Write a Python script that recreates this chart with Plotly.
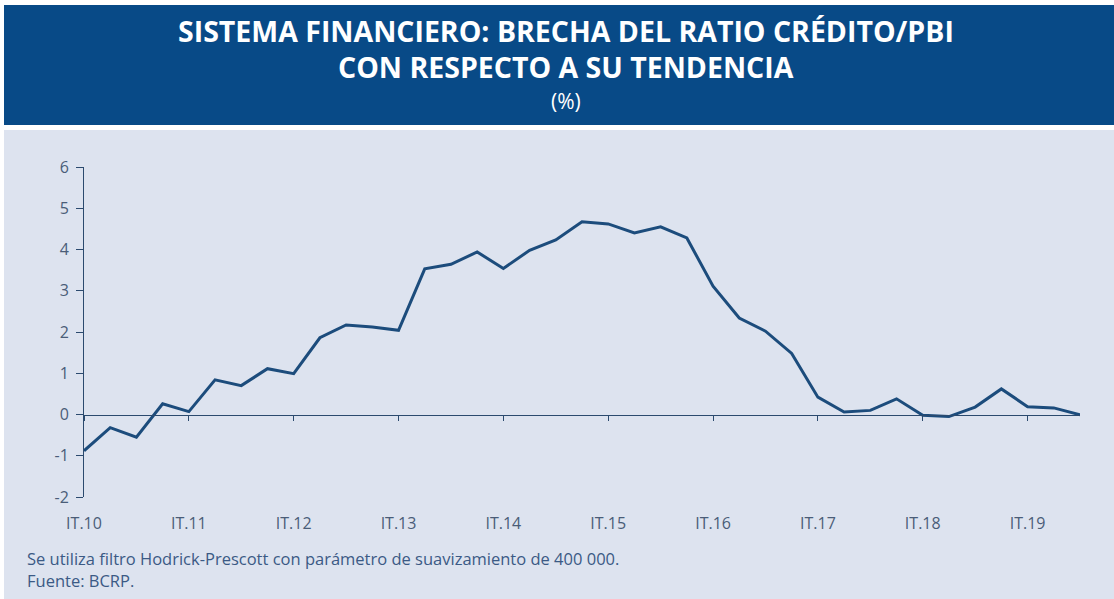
import plotly.graph_objects as go

# quarters IT.10 ... IIIT.19
years = ["10", "11", "12", "13", "14", "15", "16", "17", "18", "19"]
quarters = ["IT", "IIT", "IIIT", "IVT"]
periods = [q + "." + y for y in years for q in quarters][:39]

brecha = [-0.88, -0.32, -0.55, 0.26, 0.07, 0.84, 0.70, 1.11,
          0.99, 1.86, 2.17, 2.12, 2.04, 3.53, 3.64, 3.94,
          3.54, 3.98, 4.23, 4.67, 4.62, 4.40, 4.55, 4.28,
          3.11, 2.34, 2.02, 1.48, 0.42, 0.06, 0.10, 0.38,
          -0.02, -0.05, 0.18, 0.62, 0.19, 0.16, -0.01]

year_ticks = ["IT." + y for y in years]
y_ticks = [-2, -1, 0, 1, 2, 3, 4, 5, 6]

header_blue = "#084a87"
body_bg = "#dde3ef"
axis_col = "#2b4a6e"
text_col = "#4a5d78"
line_col = "#1c4c7c"

fig = go.Figure()
fig.add_trace(go.Scatter(x=periods, y=brecha, mode="lines",
                         line=dict(color=line_col, width=3), showlegend=False))
# invisible copy so the zero-line axis (x2) gets drawn
fig.add_trace(go.Scatter(x=list(range(len(periods))), y=brecha, xaxis="x2",
                         mode="lines", line=dict(color="rgba(0,0,0,0)"),
                         hoverinfo="skip", showlegend=False))

# plot area in pixels: x 84..1080, y 167..497
L, R, T, B = 84, 1080, 167, 497
W, H = 1114, 599
pw, ph = R - L, B - T
px = lambda p: (p - L) / pw
py = lambda p: (B - p) / ph

fig.update_layout(
    width=W, height=H,
    margin=dict(l=L, r=W - R, t=T, b=H - B),
    paper_bgcolor="white", plot_bgcolor=body_bg,
    font=dict(family="Open Sans, DejaVu Sans", color=text_col, size=14),
    shapes=[
        dict(type="rect", xref="paper", yref="paper", layer="below",
             x0=px(4), x1=px(W), y0=py(5), y1=py(125),
             fillcolor=header_blue, line_width=0),
        dict(type="rect", xref="paper", yref="paper", layer="below",
             x0=px(4), x1=px(W), y0=py(130), y1=py(H),
             fillcolor=body_bg, line_width=0),
    ],
    xaxis=dict(type="category", range=[0, len(periods) - 1],
               tickvals=year_ticks, ticktext=year_ticks,
               ticks="outside", ticklen=12, tickcolor="rgba(0,0,0,0)",
               showline=False, showgrid=False, zeroline=False,
               tickfont=dict(size=16, color=text_col)),
    xaxis2=dict(overlaying="x", anchor="free", position=0.25,
                range=[0, len(periods) - 1],
                tickvals=[periods.index(t) for t in year_ticks],
                showticklabels=False, ticks="outside", ticklen=5,
                tickcolor=axis_col, showline=True, linecolor=axis_col,
                linewidth=1, showgrid=False, zeroline=False),
    yaxis=dict(range=[-2, 6], tickvals=y_ticks,
               ticktext=[str(v) for v in y_ticks], showgrid=False,
               zeroline=False, showline=True, linecolor=axis_col,
               linewidth=1, ticks="outside", ticklen=7, tickcolor=axis_col,
               ticklabelstandoff=4,
               tickfont=dict(size=16, color=text_col)),
)

title_font = dict(family="Open Sans", color="white", size=28.5)
fig.add_annotation(text="<b>SISTEMA FINANCIERO: BRECHA DEL RATIO CRÉDITO/PBI</b>",
                   x=px(566), y=py(31), xref="paper", yref="paper",
                   xanchor="center", yanchor="middle",
                   showarrow=False, font=title_font)
fig.add_annotation(text="<b>CON RESPECTO A SU TENDENCIA</b>",
                   x=px(566), y=py(67), xref="paper", yref="paper",
                   xanchor="center", yanchor="middle",
                   showarrow=False, font=title_font)
fig.add_annotation(text="(%)", x=px(566), y=py(101), xref="paper", yref="paper",
                   xanchor="center", yanchor="middle", showarrow=False,
                   font=dict(family="Open Sans", color="white", size=21))

note_font = dict(family="Open Sans", color="#3b5a85", size=16.5)
fig.add_annotation(text="Se utiliza filtro Hodrick-Prescott con parámetro de suavizamiento de 400 000.",
                   x=px(25), y=py(558), xref="paper", yref="paper",
                   xanchor="left", yanchor="middle", showarrow=False, font=note_font)
fig.add_annotation(text="Fuente: BCRP.", x=px(25), y=py(580),
                   xref="paper", yref="paper", xanchor="left", yanchor="middle",
                   showarrow=False, font=note_font)

fig.write_html("out.html", config={"displayModeBar": False},
               post_script="document.body.style.margin='0';")
